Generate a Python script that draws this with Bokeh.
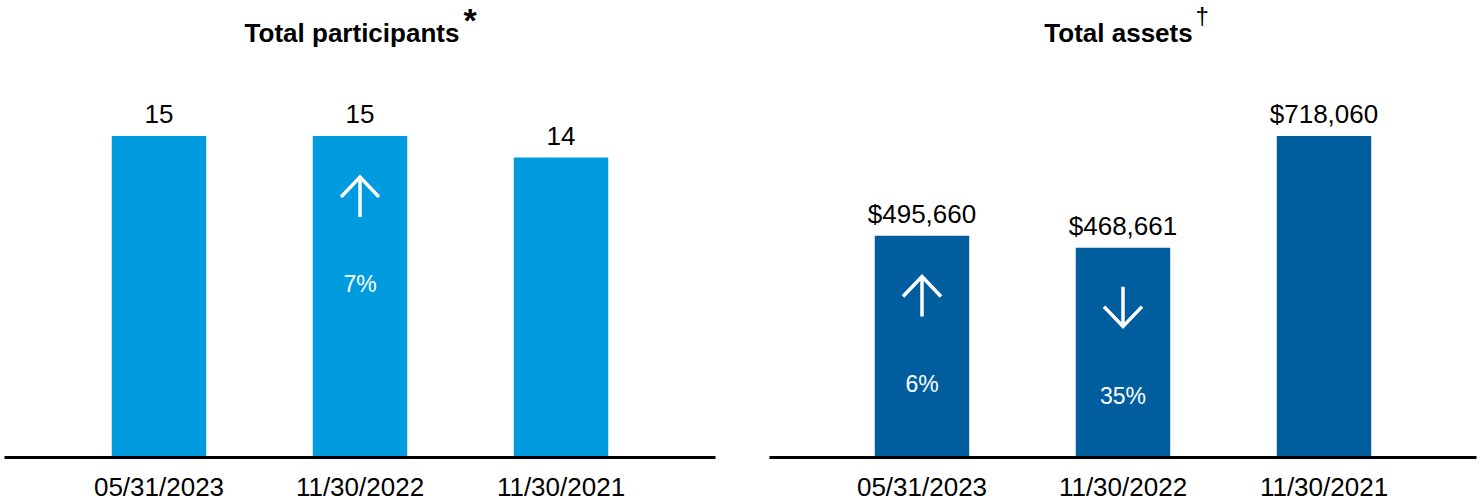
from bokeh.plotting import figure
from bokeh.models import ColumnDataSource, FactorRange, Range1d, Label
from bokeh.layouts import row
from bokeh.embed import file_html
from bokeh.resources import INLINE
from bokeh.core.properties import value

# ---- data -------------------------------------------------------------
dates = ["05/31/2023", "11/30/2022", "11/30/2021"]
participants = [15, 15, 14]
participants_change = [None, 7, None]      # % change vs next period
assets = [495660, 468661, 718060]
assets_change = [6, -35, None]

FONT = "Liberation Sans"
LIGHT_BLUE = "#009bde"
DARK_BLUE = "#005e9e"

FIG_W, FIG_H = 741, 504
BORDER_BOTTOM = 46
FRAME_H = FIG_H - BORDER_BOTTOM
HEADROOM = 1.422
BAR_PITCH = 201  # px between bar centres


def make_panel(values, changes, fmt, color, title, title_dx, mark, mark_size,
               mark_style, mark_dx, mark_y, left_border, right_border):
    frame_w = FIG_W - left_border - right_border
    pad = (frame_w / BAR_PITCH - len(dates)) / 2
    y_end = max(values) * HEADROOM
    p = figure(
        x_range=FactorRange(*dates, range_padding=pad, range_padding_units="absolute"),
        y_range=Range1d(0, y_end),
        width=FIG_W, height=FIG_H, title=None,
        output_backend="svg", toolbar_location=None, y_axis_location=None,
        min_border_left=left_border, min_border_right=right_border,
        min_border_top=0, min_border_bottom=BORDER_BOTTOM,
    )
    p.outline_line_color = None
    p.xgrid.visible = False
    p.ygrid.visible = False
    p.background_fill_color = "white"
    p.border_fill_color = "white"

    ax = p.xaxis[0]
    ax.axis_line_width = 3
    ax.axis_line_color = "black"
    ax.major_tick_line_color = None
    ax.minor_tick_line_color = None
    ax.major_tick_out = 0
    ax.major_label_standoff = 14
    ax.major_label_text_font = FONT
    ax.major_label_text_font_size = "26px"
    ax.major_label_text_color = "black"

    src = ColumnDataSource(dict(x=dates, top=values, label=[fmt(v) for v in values]))
    p.vbar(x="x", top="top", width=0.47, source=src, fill_color=color, line_color=None)
    p.text(x="x", y="top", text="label", source=src, text_align="center",
           text_baseline="middle", y_offset=-22, text_font=value(FONT),
           text_font_size="26px", text_color="black")

    # change indicators: arrow + percentage inside the bar
    dy = y_end / FRAME_H          # data units per pixel (vertical)
    dx = 1.0 / BAR_PITCH          # factor units per pixel (horizontal)
    idx = [i for i, c in enumerate(changes) if c is not None]
    xs, ys = [], []
    for i in idx:
        cx, top = i + 0.5, values[i]
        up = changes[i] > 0
        tip = top - (41 if up else 79) * dy
        tail = top - (81 if up else 39) * dy
        arm = tip - 20 * dy if up else tip + 20 * dy
        xs += [[cx - 19 * dx, cx, cx + 19 * dx], [cx, cx]]
        ys += [[arm, tip, arm], [tip, tail]]
    p.multi_line(xs=xs, ys=ys, line_color="white", line_width=3.5,
                 line_join="miter", line_cap="butt")

    csrc = ColumnDataSource(dict(
        x=[dates[i] for i in idx],
        top=[values[i] for i in idx],
        pct=[f"{abs(changes[i])}%" for i in idx],
    ))
    p.text(x="x", y="top", text="pct", source=csrc, text_align="center",
           text_baseline="middle", y_offset=148, text_font=value(FONT),
           text_font_size="23px", text_color="white")

    centre = len(dates) / 2       # synthetic coordinate of the middle factor
    p.add_layout(Label(x=centre, y=FRAME_H - 33, x_offset=title_dx, y_units="screen",
                       text=title, text_align="center", text_baseline="middle",
                       text_font=FONT, text_font_size="26px", text_font_style="bold",
                       text_color="black"))
    p.add_layout(Label(x=centre, y=FRAME_H - mark_y, x_offset=mark_dx, y_units="screen",
                       text=mark, text_align="left", text_baseline="middle",
                       text_font=FONT, text_font_size=mark_size,
                       text_font_style=mark_style, text_color="black"))
    return p


p1 = make_panel(participants, participants_change, lambda v: f"{v:,}", LIGHT_BLUE,
                "Total participants", -8, "*", "34px", "bold", 103.5, 20,
                4, 26)
p2 = make_panel(assets, assets_change, lambda v: f"${v:,}", DARK_BLUE,
                "Total assets", -4.5, "\u2020", "24px", "normal", 72.5, 16,
                28, 6)

layout = row(p1, p2)
open("out.html", "w").write(file_html(layout, INLINE))
